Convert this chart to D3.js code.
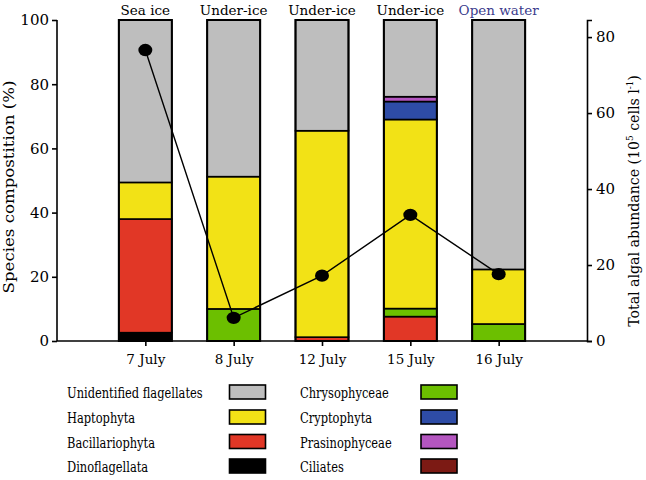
<!DOCTYPE html>
<html><head><meta charset="utf-8">
<script src="https://cdn.jsdelivr.net/npm/d3@7"></script>
<style>body{margin:0;background:#fff;} svg text{font-family:'DejaVu Serif',serif;}</style>
</head><body>
<svg id="c" width="646" height="480"></svg>
<script>
const dates = ["7 July","8 July","12 July","15 July","16 July"];
const habitats = ["Sea ice","Under-ice","Under-ice","Under-ice","Open water"];
const groups = ["Dinoflagellata","Bacillariophyta","Ciliates","Chrysophyceae","Haptophyta","Cryptophyta","Prasinophyceae","Unidentified flagellates"];
const dinoflagellata = [2.6,0,0,0,0];
const bacillariophyta = [35.4,0,1.2,7.6,0];
const ciliates = [0,0,0,0,0];
const chrysophyceae = [0,10,0,2.5,5.3];
const haptophyta = [11.4,41.2,64.3,58.9,17];
const cryptophyta = [0,0,0,5.6,0];
const prasinophyceae = [0,0,0,1.5,0];
const unidentified = [50.6,48.8,34.5,23.9,77.7];
const abundance = [76.6,6.1,17.2,33.2,17.6];
const leftTicks = [0,20,40,60,80,100];
const rightTicks = [0,20,40,60,80];
const colors = {"Unidentified flagellates":"#bebebe","Haptophyta":"#f2e216","Bacillariophyta":"#e13726","Dinoflagellata":"#000000","Chrysophyceae":"#6cbf00","Cryptophyta":"#2e4ca6","Prasinophyceae":"#b456c0","Ciliates":"#7c1a14"};
const legendLeft = ["Unidentified flagellates","Haptophyta","Bacillariophyta","Dinoflagellata"];
const legendRight = ["Chrysophyceae","Cryptophyta","Prasinophyceae","Ciliates"];
// horizontal squeeze so the wide DejaVu Serif matches the Times-like widths of the original
const legendSqueeze = 0.79;

const seriesVals = {"Dinoflagellata":dinoflagellata,"Bacillariophyta":bacillariophyta,"Ciliates":ciliates,"Chrysophyceae":chrysophyceae,"Haptophyta":haptophyta,"Cryptophyta":cryptophyta,"Prasinophyceae":prasinophyceae,"Unidentified flagellates":unidentified};
const table = dates.map((d,i)=>{const o={date:d}; groups.forEach(g=>o[g]=seriesVals[g][i]); return o;});

const svg = d3.select("#c");
const L=57, R=587, T=20, B=341;
const x = d3.scalePoint().domain(dates).range([L,R]).padding(1);
const y = d3.scaleLinear().domain([0,100]).range([B,T]);
const y2 = d3.scaleLinear().domain([0,84.5]).range([B,T]);
const bw = 53;

const stack = d3.stack().keys(groups)(table);
const g = svg.append("g");
stack.forEach(s=>{
  g.selectAll(null).data(s.filter(d=>d[1]-d[0]>0)).enter().append("rect")
   .attr("x",d=>x(d.data.date)-bw/2).attr("width",bw)
   .attr("y",d=>y(d[1])).attr("height",d=>y(d[0])-y(d[1]))
   .attr("fill",colors[s.key]).attr("stroke","#000").attr("stroke-width",1.6);
});
svg.selectAll(null).data(dates).enter().append("rect")
  .attr("x",d=>x(d)-bw/2).attr("width",bw).attr("y",y(100)).attr("height",y(0)-y(100))
  .attr("fill","none").attr("stroke","#000").attr("stroke-width",2);

const ax = svg.append("g").attr("transform",`translate(${L},0)`).call(d3.axisLeft(y).tickValues(leftTicks).tickSizeOuter(0).tickSize(5).tickPadding(3));
const ax2 = svg.append("g").attr("transform",`translate(${R},0)`).call(d3.axisRight(y2).tickValues(rightTicks).tickSizeOuter(0).tickSize(5).tickPadding(4));
const axb = svg.append("g").attr("transform",`translate(0,${B})`).call(d3.axisBottom(x).tickSizeOuter(0).tickSize(5).tickPadding(8));
[ax,ax2,axb].forEach(a=>{a.attr("font-family",null);
  a.selectAll("path,line").attr("stroke","#000").attr("stroke-width",1.6);
  a.selectAll("text").attr("fill","#000");});
ax.selectAll("text").style("font-size","15px");
ax2.selectAll("text").style("font-size","15px");
axb.selectAll("text").style("font-size","13.5px");
ax.select(".domain").attr("d",`M0,${B}V${T}`);
axb.select(".domain").attr("d",`M${L},0H${R}`);

const line = d3.line().x((d,i)=>x(dates[i])).y(d=>y2(d));
svg.append("path").datum(abundance).attr("d",line).attr("fill","none").attr("stroke","#000").attr("stroke-width",1.4);
svg.selectAll(null).data(abundance).enter().append("ellipse")
  .attr("cx",(d,i)=>x(dates[i])).attr("cy",d=>y2(d)).attr("rx",7).attr("ry",6.2).attr("fill","#000");

// habitat labels
svg.selectAll(null).data(habitats).enter().append("text")
  .attr("x",(d,i)=>x(dates[i])).attr("y",15).attr("text-anchor","middle").style("font-size","13.5px")
  .attr("fill",(d,i)=>i===4?"#3b3b8c":"#000").text(d=>d);

// titles, scaled to the original lengths
function fitTo(textSel, width){
  const n = textSel.node(); const w = n.getBBox().width;
  textSel.attr("transform",`scale(${width/w},1)`);
}
const lt = svg.append("g").attr("transform",`translate(14,187) rotate(-90)`).append("text")
  .attr("text-anchor","middle").style("font-size","14.5px").text("Species compostition (%)");
fitTo(lt,213);
const rt = svg.append("g").attr("transform",`translate(639,201) rotate(-90)`).append("text")
  .attr("text-anchor","middle").style("font-size","14.5px");
rt.append("tspan").text("Total algal abundance (10");
rt.append("tspan").style("font-size","9px").attr("dy",-6).text("5");
rt.append("tspan").attr("dy",6).text(" cells l");
rt.append("tspan").style("font-size","9px").attr("dy",-6).text("-1");
rt.append("tspan").attr("dy",6).text(")");
fitTo(rt,252);

// legend
const rowsTop = [385,410,434.5,459];
function legendCol(items, tx, sx){
  items.forEach((k,i)=>{
    svg.append("g").attr("transform",`translate(${tx},${rowsTop[i]+13})`).append("text")
      .attr("transform",`scale(${legendSqueeze},1)`).style("font-size","14.5px").text(k);
    svg.append("rect").attr("x",sx).attr("y",rowsTop[i]).attr("width",36).attr("height",14)
      .attr("fill",colors[k]).attr("stroke","#000").attr("stroke-width",1.6);
  });
}
legendCol(legendLeft,67,229.5);
legendCol(legendRight,300,421);
</script>
</body></html>
